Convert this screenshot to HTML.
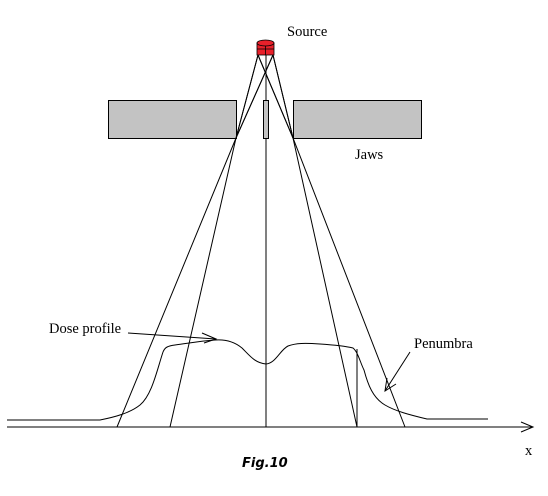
<!DOCTYPE html>
<html><head><meta charset="utf-8"><style>
body{margin:0;background:#fff}
svg{display:block}
text{font-family:"Liberation Serif",serif;font-size:14.5px;fill:#000}
</style></head><body>
<svg width="548" height="496" viewBox="0 0 548 496">
<g stroke="#000" stroke-width="1" fill="none">
<!-- beam lines -->
<polyline points="273,55 236,138 117,427"/>
<polyline points="258,55 293,138 405,427"/>
<polyline points="258,55 236,138 170,427"/>
<polyline points="273,55 293,138 357,427"/>
<line x1="266" y1="55" x2="266" y2="427"/>
<line x1="357" y1="349" x2="357" y2="427"/>
<!-- x-axis -->
<line x1="7" y1="427" x2="533" y2="427"/>
<polyline points="521,422 533,427 521,432"/>
<!-- dose profile -->
<path d="M7,420 L100,420 C115,417 130,413 140,405 C152,395 157,370 163,352 C165,347 168,346 175,345 C190,343 200,341 215,340 C228,339 236,343 242,348 C250,356 255,363 266,364 C276,363 280,350 288,346 C296,343 305,343 320,344 C335,345 345,346 353,348 C358,352 360,362 364,370 C368,385 373,398 385,405 C395,411 410,415 427,419 L488,419"/>
<!-- dose profile arrow -->
<line x1="128" y1="333" x2="216" y2="339"/>
<polyline points="202,333 216,339 204,343"/>
<!-- penumbra arrow -->
<line x1="410" y1="352" x2="385" y2="391"/>
<polyline points="387,378 385,391 396,384"/>
</g>
<!-- jaws -->
<rect x="108.5" y="100.5" width="128" height="38" fill="#c3c3c3" stroke="#000"/>
<rect x="293.5" y="100.5" width="128" height="38" fill="#c3c3c3" stroke="#000"/>
<rect x="263.5" y="100.5" width="5" height="38" fill="#c3c3c3" stroke="#000"/>
<!-- beam lines over jaws (corners) -->
<g stroke="#000" stroke-width="1">
<line x1="273" y1="55" x2="236" y2="138"/>
<line x1="258" y1="55" x2="236" y2="138"/>
<line x1="258" y1="55" x2="293" y2="138"/>
<line x1="273" y1="55" x2="293" y2="138"/>
<line x1="266" y1="55" x2="266" y2="100"/>
</g>
<!-- source -->
<g>
<rect x="257" y="43" width="17" height="12" fill="#e8202a" stroke="#000" stroke-width="0.8"/>
<ellipse cx="265.5" cy="43" rx="8.5" ry="3" fill="#e8202a" stroke="#000" stroke-width="0.8"/>
<line x1="257" y1="49" x2="274" y2="49" stroke="#000" stroke-width="0.8"/>
<line x1="265.5" y1="46" x2="265.5" y2="55" stroke="#000" stroke-width="0.8"/>
</g>
<text x="287" y="36">Source</text>
<text x="355" y="159">Jaws</text>
<text x="49" y="333">Dose profile</text>
<text x="414" y="348">Penumbra</text>
<text x="525" y="455">x</text>
<text x="242" y="467" style="font-family:'DejaVu Sans',sans-serif;font-weight:bold;font-style:italic;font-size:13px">Fig.10</text>
</svg>
</body></html>
